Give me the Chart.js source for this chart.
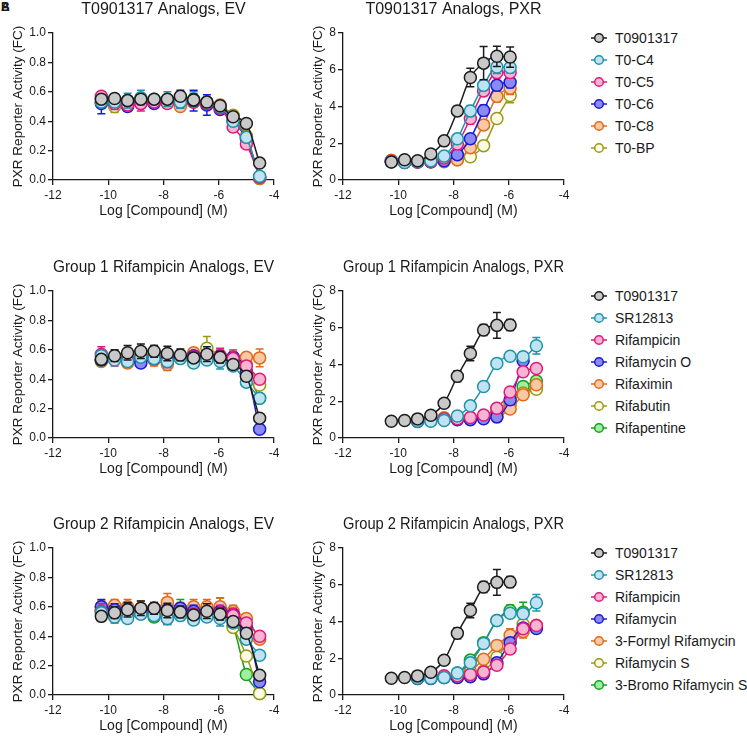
<!DOCTYPE html>
<html>
<head>
<meta charset="utf-8">
<script src="https://cdn.jsdelivr.net/npm/chart.js@4.4.1/dist/chart.umd.min.js"></script>
<style>
  body { margin: 0; background: #fff; width: 747px; height: 736px; position: relative; overflow: hidden;
         font-family: "Liberation Sans", Arial, sans-serif; color: #1a1a1a; }
  canvas { position: absolute; }
  .tag { position: absolute; left: 1px; top: 0px; font-weight: bold; font-size: 12px; }
  .lg-row { position: absolute; left: 591px; height: 22px; display: flex; align-items: center;
            font-size: 14px; white-space: nowrap; }
  .lg-row svg { margin-right: 8px; }
</style>
</head>
<body>
<div class="tag">A</div><div class="tag">B</div>
<canvas id="evA" width="290" height="225" style="left:0;top:0"></canvas>
<canvas id="pxrA" width="280" height="225" style="left:300px;top:0"></canvas>
<canvas id="evB" width="290" height="225" style="left:0;top:258px"></canvas>
<canvas id="pxrB" width="280" height="225" style="left:300px;top:258px"></canvas>
<canvas id="evC" width="290" height="225" style="left:0;top:515px"></canvas>
<canvas id="pxrC" width="280" height="225" style="left:300px;top:515px"></canvas>
<div id="legends"></div>
<script>
// log concentrations (M)
const xEV  = [-10.25, -9.77, -9.30, -8.82, -8.34, -7.86, -7.39, -6.91, -6.43, -5.95, -5.48, -5.00, -4.52];
const xPXR = [-10.25, -9.77, -9.30, -8.82, -8.34, -7.86, -7.39, -6.91, -6.43, -5.95];
const xRif = [-9.30, -8.82, -8.34, -7.86, -7.39, -6.91, -6.43, -5.95, -5.48, -5.00];

const namesA = ['T0901317', 'T0-C4', 'T0-C5', 'T0-C6', 'T0-C8', 'T0-BP'];
const namesB = ['T0901317', 'SR12813', 'Rifampicin', 'Rifamycin O', 'Rifaximin', 'Rifabutin', 'Rifapentine'];
const namesC = ['T0901317', 'SR12813', 'Rifampicin', 'Rifamycin', '3-Formyl Rifamycin', 'Rifamycin S', '3-Bromo Rifamycin S'];

const lineColors = ['#1c1c1c', '#1f93a9', '#e0187c', '#1a1ad6', '#e06a1b', '#9a9a12', '#14a01e'];
const fillColors = ['#c9c9c9', '#bfe3f2', '#f7b5d3', '#8a8af2', '#f9c9a4', '#fbfbe6', '#9ef09e'];

// T0901317 analogs, EV
const evA = [
  [0.55, 0.555, 0.54, 0.55, 0.55, 0.55, 0.57, 0.545, 0.53, 0.505, 0.43, 0.385, 0.115],
  [0.53, 0.53, 0.54, 0.56, 0.55, 0.55, 0.53, 0.55, 0.53, 0.50, 0.40, 0.29, 0.025],
  [0.57, 0.52, 0.51, 0.52, 0.53, 0.52, 0.54, 0.53, 0.52, 0.49, 0.36, 0.245, 0.02],
  [0.52, 0.53, 0.50, 0.52, 0.52, 0.53, 0.55, 0.54, 0.51, 0.48, 0.40, 0.28, 0.02],
  [0.55, 0.54, 0.53, 0.53, 0.53, 0.54, 0.50, 0.53, 0.53, 0.51, 0.42, 0.29, 0.01],
  [0.53, 0.50, 0.52, 0.53, 0.53, 0.53, 0.52, 0.53, 0.52, 0.50, 0.44, 0.30, 0.01]
];
const evAErr = [
  [0.02, 0.03, 0.03, 0.03, 0.02, 0.03, 0.03, 0.04, 0.03, 0.03, 0.02, 0.02, 0.01],
  [0.02, 0.03, 0.05, 0.05, 0.03, 0.05, 0.04, 0.05, 0.03, 0.03, 0.03, 0.02, 0.01],
  [0.03, 0.04, 0.03, 0.05, 0.03, 0.03, 0.03, 0.03, 0.03, 0.03, 0.03, 0.02, 0.01],
  [0.07, 0.04, 0.03, 0.03, 0.03, 0.03, 0.06, 0.07, 0.07, 0.03, 0.02, 0.02, 0.01],
  [0.03, 0.03, 0.03, 0.03, 0.03, 0.03, 0.03, 0.03, 0.03, 0.03, 0.02, 0.02, 0.01],
  [0.03, 0.04, 0.03, 0.03, 0.03, 0.03, 0.03, 0.03, 0.03, 0.03, 0.02, 0.02, 0.01]
];

// T0901317 analogs, PXR
const pxrA = [
  [0.98, 1.10, 1.05, 1.42, 2.13, 3.76, 5.58, 6.36, 6.73, 6.69],
  [1.00, 0.95, 1.00, 1.05, 1.30, 2.24, 3.76, 5.15, 6.15, 6.12],
  [1.02, 0.97, 0.98, 1.00, 1.20, 1.96, 3.35, 4.85, 5.85, 5.85],
  [1.00, 0.95, 0.98, 1.00, 1.05, 1.38, 2.25, 3.78, 5.15, 5.32],
  [1.08, 1.00, 1.00, 1.00, 1.05, 1.10, 1.76, 3.00, 4.55, 5.00],
  [1.05, 1.00, 1.00, 1.00, 1.00, 1.10, 1.27, 1.87, 3.35, 4.60]
];
const pxrAErr = [
  [0.10, 0.10, 0.10, 0.10, 0.10, 0.25, 0.50, 0.90, 0.55, 0.55],
  [0.05, 0.05, 0.05, 0.05, 0.10, 0.15, 0.30, 0.20, 0.35, 0.30],
  [0.05, 0.05, 0.05, 0.05, 0.10, 0.15, 0.30, 0.25, 0.30, 0.30],
  [0.05, 0.05, 0.05, 0.05, 0.05, 0.10, 0.15, 0.30, 0.25, 0.30],
  [0.05, 0.05, 0.05, 0.05, 0.05, 0.10, 0.20, 0.20, 0.30, 0.35],
  [0.05, 0.05, 0.05, 0.05, 0.05, 0.10, 0.10, 0.10, 0.25, 0.40]
];

// controls shared by both rifampicin groups
const evT0 = [0.535, 0.56, 0.58, 0.59, 0.59, 0.575, 0.565, 0.545, 0.57, 0.55, 0.50, 0.42, 0.135];
const evT0Err = [0.03, 0.04, 0.05, 0.05, 0.04, 0.05, 0.04, 0.03, 0.05, 0.04, 0.02, 0.03, 0.02];
const evSR = [0.56, 0.53, 0.52, 0.55, 0.54, 0.52, 0.54, 0.51, 0.53, 0.52, 0.49, 0.38, 0.27];
const evSRErr = [0.04, 0.03, 0.03, 0.03, 0.03, 0.04, 0.03, 0.03, 0.03, 0.05, 0.02, 0.02, 0.02];
const evRifampicin = [0.57, 0.54, 0.53, 0.56, 0.55, 0.52, 0.55, 0.55, 0.56, 0.56, 0.54, 0.49, 0.40];
const evRifampicinErr = [0.05, 0.05, 0.04, 0.04, 0.04, 0.04, 0.04, 0.04, 0.04, 0.05, 0.05, 0.03, 0.03];
const pxrT0 = [0.91, 0.95, 1.04, 1.24, 1.89, 3.36, 4.60, 5.88, 6.13, 6.15];
const pxrT0Err = [0.05, 0.05, 0.10, 0.10, 0.10, 0.30, 0.40, 0.30, 0.70, 0.30];
const pxrSR = [0.91, 0.91, 0.95, 1.20, 1.75, 2.80, 4.05, 4.45, 4.42, 5.02];
const pxrSRErr = [0.05, 0.05, 0.05, 0.10, 0.10, 0.10, 0.20, 0.15, 0.25, 0.45];
const pxrRifampicin = [0.97, 1.00, 1.05, 1.05, 1.12, 1.25, 1.62, 2.50, 3.60, 3.78];
const pxrRifampicinErr = [0.05, 0.05, 0.05, 0.05, 0.05, 0.10, 0.20, 0.20, 0.20, 0.20];

// Group 1 rifampicin analogs
const evB = [
  evT0, evSR, evRifampicin,
  [0.53, 0.54, 0.53, 0.51, 0.54, 0.54, 0.55, 0.56, 0.55, 0.54, 0.55, 0.45, 0.06],
  [0.53, 0.55, 0.51, 0.54, 0.53, 0.50, 0.55, 0.58, 0.56, 0.56, 0.55, 0.55, 0.545],
  [0.52, 0.54, 0.52, 0.56, 0.57, 0.53, 0.55, 0.54, 0.61, 0.56, 0.54, 0.50, 0.36],
  [0.53, 0.55, 0.54, 0.55, 0.58, 0.55, 0.56, 0.55, 0.55, 0.55, 0.52, 0.45, 0.27]
];
const evBErr = [
  evT0Err, evSRErr, evRifampicinErr,
  [0.03, 0.03, 0.03, 0.03, 0.03, 0.03, 0.03, 0.03, 0.03, 0.03, 0.03, 0.02, 0.01],
  [0.03, 0.03, 0.03, 0.03, 0.04, 0.04, 0.03, 0.03, 0.03, 0.03, 0.05, 0.02, 0.06],
  [0.03, 0.03, 0.03, 0.05, 0.05, 0.03, 0.03, 0.03, 0.08, 0.04, 0.03, 0.03, 0.02],
  [0.03, 0.03, 0.03, 0.05, 0.05, 0.03, 0.03, 0.03, 0.03, 0.03, 0.03, 0.03, 0.02]
];
const pxrB = [
  pxrT0, pxrSR, pxrRifampicin,
  [0.90, 0.95, 1.00, 1.00, 1.00, 1.05, 1.15, 2.08, 4.20, null],
  [0.95, 1.00, 1.00, 1.05, 1.05, 1.10, 1.15, 1.58, 2.35, 2.90],
  [1.00, 1.05, 1.10, 1.05, 1.05, 1.20, 1.60, 1.90, 2.45, 2.65],
  [0.95, 1.00, 1.05, 1.10, 1.10, 1.15, 1.35, 1.85, 2.80, 3.10]
];
const pxrBErr = [
  pxrT0Err, pxrSRErr, pxrRifampicinErr,
  [0.05, 0.05, 0.05, 0.05, 0.05, 0.05, 0.10, 0.15, 0.20, null],
  [0.05, 0.05, 0.05, 0.05, 0.05, 0.05, 0.10, 0.10, 0.25, 0.20],
  [0.05, 0.05, 0.05, 0.05, 0.05, 0.10, 0.20, 0.10, 0.15, 0.10],
  [0.05, 0.05, 0.05, 0.05, 0.05, 0.05, 0.10, 0.10, 0.15, 0.10]
];

// Group 2 rifampicin analogs
const evC = [
  evT0, evSR, evRifampicin,
  [0.60, 0.58, 0.58, 0.57, 0.59, 0.58, 0.59, 0.57, 0.56, 0.57, 0.55, 0.46, 0.09],
  [0.60, 0.61, 0.60, 0.59, 0.59, 0.63, 0.59, 0.60, 0.60, 0.60, 0.57, 0.52, 0.38],
  [0.58, 0.57, 0.58, 0.58, 0.58, 0.57, 0.58, 0.57, 0.57, 0.58, 0.46, 0.265, 0.01],
  [0.57, 0.59, 0.57, 0.58, 0.53, 0.57, 0.59, 0.58, 0.58, 0.59, 0.47, 0.14, 0.01]
];
const evCErr = [
  evT0Err, evSRErr, evRifampicinErr,
  [0.05, 0.04, 0.04, 0.04, 0.03, 0.03, 0.03, 0.04, 0.03, 0.03, 0.03, 0.02, 0.02],
  [0.04, 0.04, 0.05, 0.05, 0.04, 0.06, 0.04, 0.05, 0.05, 0.06, 0.04, 0.03, 0.03],
  [0.04, 0.04, 0.04, 0.04, 0.04, 0.04, 0.04, 0.04, 0.04, 0.04, 0.03, 0.03, 0.01],
  [0.04, 0.04, 0.04, 0.04, 0.03, 0.04, 0.06, 0.04, 0.04, 0.07, 0.03, 0.02, 0.01]
];
const pxrC = [
  pxrT0, pxrSR, pxrRifampicin,
  [0.90, 0.90, 0.95, 0.95, 1.00, 1.15, 1.75, 2.85, 3.65, 3.62],
  [0.95, 0.95, 1.00, 1.05, 1.30, 1.95, 2.70, 3.25, 3.45, 3.80],
  [0.90, 0.92, 0.95, 0.95, 1.05, 1.30, 2.05, 3.00, 3.85, 3.70],
  [0.95, 1.00, 1.00, 1.20, 1.90, 2.85, 4.05, 4.60, 4.50, null]
];
const pxrCErr = [
  pxrT0Err, pxrSRErr, pxrRifampicinErr,
  [0.05, 0.05, 0.05, 0.05, 0.05, 0.05, 0.10, 0.15, 0.20, 0.15],
  [0.05, 0.05, 0.05, 0.05, 0.10, 0.10, 0.10, 0.35, 0.35, 0.20],
  [0.05, 0.05, 0.05, 0.05, 0.05, 0.10, 0.10, 0.15, 0.20, 0.20],
  [0.05, 0.05, 0.05, 0.10, 0.15, 0.15, 0.15, 0.30, 0.55, null]
];

Chart.defaults.font.family = '"Liberation Sans", Arial, sans-serif';
Chart.defaults.color = '#1a1a1a';

const errorBars = {
  id: 'errorBars',
  beforeDatasetDraw(chart, args) {
    const ds = chart.data.datasets[args.index];
    const ys = chart.scales.y;
    const ctx = chart.ctx;
    ctx.save();
    ctx.strokeStyle = ds.borderColor;
    ctx.lineWidth = 1.5;
    args.meta.data.forEach((pt, j) => {
      const d = ds.data[j];
      if (!d.err) return;
      const top = ys.getPixelForValue(d.y + d.err);
      const bot = ys.getPixelForValue(Math.max(0, d.y - d.err));
      ctx.beginPath();
      ctx.moveTo(pt.x, top); ctx.lineTo(pt.x, bot);
      ctx.moveTo(pt.x - 4, top); ctx.lineTo(pt.x + 4, top);
      ctx.moveTo(pt.x - 4, bot); ctx.lineTo(pt.x + 4, bot);
      ctx.stroke();
    });
    ctx.restore();
  }
};

function makeSets(names, xs, means, errs) {
  return names.map((name, i) => ({
    label: name,
    data: means[i].map((y, j) => ({ x: xs[i][j], y: y, err: errs[i][j] })).filter(p => p.y !== null),
    borderColor: lineColors[i],
    backgroundColor: fillColors[i],
    pointBackgroundColor: fillColors[i],
    pointBorderColor: lineColors[i],
    pointRadius: 6,
    pointBorderWidth: 1.5,
    borderWidth: 1.5,
    cubicInterpolationMode: 'monotone',
    clip: false
  }));
}

function makeChart(id, title, datasets, yMax, yStep, decimals, yWidth) {
  const axisColor = '#1a1a1a';
  new Chart(document.getElementById(id), {
    type: 'line',
    data: { datasets: datasets },
    options: {
      responsive: false,
      animation: false,
      events: [],
      layout: { padding: { left: 0, right: 16, top: 0, bottom: 0 } },
      plugins: {
        legend: { display: false },
        tooltip: { enabled: false },
        title: { display: true, text: title, fullSize: false, font: { size: 16, weight: 'normal' },
                 color: axisColor, padding: { top: 0, bottom: 13.8 } }
      },
      scales: {
        x: {
          type: 'linear', min: -12, max: -4,
          ticks: { stepSize: 2, font: { size: 12 }, padding: 3, color: axisColor },
          grid: { drawOnChartArea: false, tickLength: 5, color: axisColor, lineWidth: 1.3 },
          border: { color: axisColor, width: 1.3 },
          title: { display: true, text: 'Log [Compound] (M)', font: { size: 14 }, padding: { top: 0, bottom: 5.6 } },
          afterFit: s => { s.height = 45; }
        },
        y: {
          min: 0, max: yMax,
          ticks: { stepSize: yStep, font: { size: 12 }, padding: 2, color: axisColor,
                   callback: v => v.toFixed(decimals) },
          grid: { drawOnChartArea: false, tickLength: 5, color: axisColor, lineWidth: 1.3 },
          border: { color: axisColor, width: 1.3 },
          title: { display: true, text: 'PXR Reporter Activity (FC)', font: { size: 13.5 }, padding: { top: 10, bottom: 0 } },
          afterFit: s => { s.width = yWidth; }
        }
      }
    },
    plugins: [errorBars]
  });
}

const allEV = namesB.map(() => xEV);
const rifX = namesB.map((n, i) => (i === 0 ? xPXR : xRif));

makeChart('evA', 'T0901317 Analogs, EV', makeSets(namesA, allEV, evA, evAErr), 1, 0.2, 1, 53);
makeChart('pxrA', 'T0901317 Analogs, PXR', makeSets(namesA, namesA.map(() => xPXR), pxrA, pxrAErr), 8, 2, 0, 43);
makeChart('evB', 'Group 1 Rifampicin Analogs, EV', makeSets(namesB, allEV, evB, evBErr), 1, 0.2, 1, 53);
makeChart('pxrB', 'Group 1 Rifampicin Analogs, PXR', makeSets(namesB, rifX, pxrB, pxrBErr), 8, 2, 0, 43);
makeChart('evC', 'Group 2 Rifampicin Analogs, EV', makeSets(namesC, allEV, evC, evCErr), 1, 0.2, 1, 53);
makeChart('pxrC', 'Group 2 Rifampicin Analogs, PXR', makeSets(namesC, rifX, pxrC, pxrCErr), 8, 2, 0, 43);

// legends to the right of the PXR panels
function addLegend(names, firstRowCenter) {
  const box = document.getElementById('legends');
  names.forEach((name, i) => {
    const row = document.createElement('div');
    row.className = 'lg-row';
    row.style.top = (firstRowCenter + i * 22 - 11) + 'px';
    row.innerHTML =
      '<svg width="16" height="12"><line x1="0" y1="6" x2="16" y2="6" stroke="' + lineColors[i] + '" stroke-width="1.5"/>' +
      '<circle cx="8" cy="6" r="4.3" fill="' + fillColors[i] + '" stroke="' + lineColors[i] + '" stroke-width="1.5"/></svg>' +
      '<span>' + name + '</span>';
    box.appendChild(row);
  });
}
addLegend(namesA, 38.3);
addLegend(namesB, 295.8);
addLegend(namesC, 553.3);
</script>
</body>
</html>
